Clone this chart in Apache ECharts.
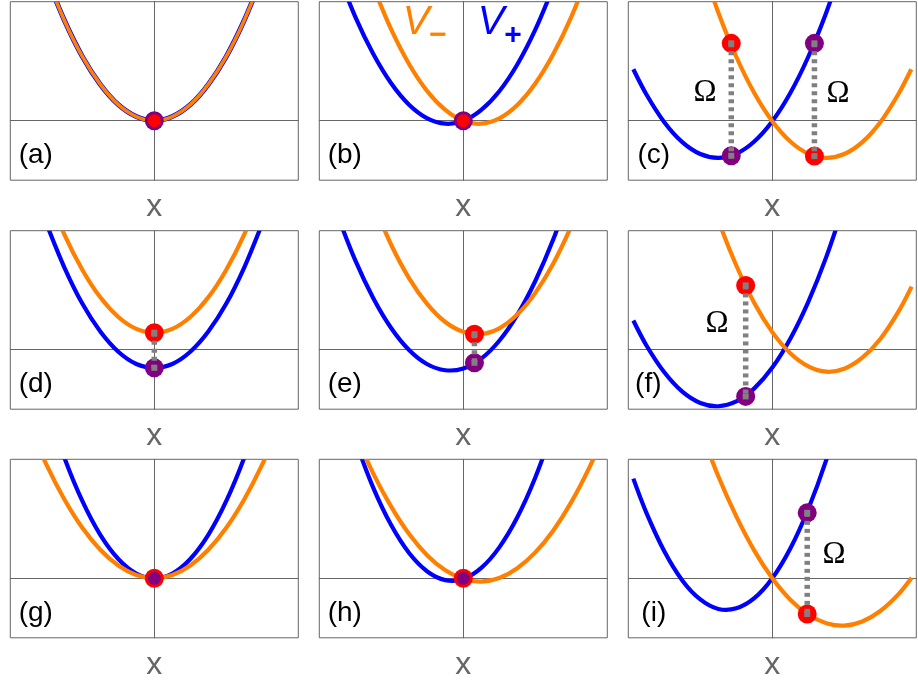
<!DOCTYPE html>
<html><head><meta charset="utf-8">
<script src="https://cdn.jsdelivr.net/npm/echarts@6/dist/echarts.min.js"></script>
<style>html,body{margin:0;padding:0;background:#fff}#c{width:918px;height:684px}</style>
</head><body><div id="c"></div>
<script>
// ---------- data ----------
const panelLabels = ['(a)','(b)','(c)','(d)','(e)','(f)','(g)','(h)','(i)'];
const axisTitle = 'x';
const curveNames = ['V\u2212','V+'];

const blue_a = [[-3,4.86],[-2.5,3.38],[-2,2.16],[-1.5,1.22],[-1,0.54],[-0.5,0.14],[0,0],[0.5,0.14],[1,0.54],[1.5,1.22],[2,2.16],[2.5,3.38],[3,4.86]];
const orange_a = [[-3,4.86],[-2.5,3.38],[-2,2.16],[-1.5,1.22],[-1,0.54],[-0.5,0.14],[0,0],[0.5,0.14],[1,0.54],[1.5,1.22],[2,2.16],[2.5,3.38],[3,4.86]];

const blue_b = [[-3.5,5.02],[-3,3.49],[-2.5,2.24],[-2,1.25],[-1.5,0.53],[-1,0.08],[-0.5,-0.10],[0,-0.01],[0.5,0.36],[1,0.99],[1.5,1.89],[2,3.06],[2.5,4.50]];
const orange_b = [[-2.5,4.50],[-2,3.06],[-1.5,1.89],[-1,0.99],[-0.5,0.36],[0,-0.01],[0.5,-0.10],[1,0.08],[1.5,0.53],[2,1.25],[2.5,2.24],[3,3.49],[3.5,5.02]];

const blue_c = [[-3.86,1.73],[-3.5,0.89],[-3,-0.05],[-2.5,-0.72],[-2,-1.12],[-1.5,-1.25],[-1,-1.11],[-0.5,-0.70],[0,-0.02],[0.5,0.93],[1,2.15],[1.5,3.64],[2,5.40]];
const orange_c = [[-2,5.40],[-1.5,3.64],[-1,2.15],[-0.5,0.93],[0,-0.02],[0.5,-0.70],[1,-1.11],[1.5,-1.25],[2,-1.12],[2.5,-0.72],[3,-0.05],[3.5,0.89],[3.86,1.73]];

const blue_d = [[-3,4.25],[-2.5,2.77],[-2,1.55],[-1.5,0.61],[-1,-0.07],[-0.5,-0.48],[0,-0.61],[0.5,-0.48],[1,-0.07],[1.5,0.61],[2,1.55],[2.5,2.77],[3,4.25]];
const orange_d = [[-3,5.34],[-2.5,3.88],[-2,2.69],[-1.5,1.76],[-1,1.10],[-0.5,0.70],[0,0.57],[0.5,0.70],[1,1.10],[1.5,1.76],[2,2.69],[2.5,3.88],[3,5.34]];

const blue_e = [[-3.5,4.54],[-3,3.00],[-2.5,1.73],[-2,0.72],[-1.5,-0.02],[-1,-0.49],[-0.5,-0.69],[0,-0.63],[0.5,-0.30],[1,0.30],[1.5,1.17],[2,2.31],[2.5,3.71],[3,5.38]];
const orange_e = [[-2.5,4.92],[-2,3.52],[-1.5,2.39],[-1,1.53],[-0.5,0.93],[0,0.60],[0.5,0.53],[1,0.72],[1.5,1.18],[2,1.91],[2.5,2.90],[3,4.16],[3.5,5.68]];

const blue_f = [[-3.86,0.98],[-3.5,0.15],[-3,-0.76],[-2.5,-1.41],[-2,-1.79],[-1.5,-1.90],[-1,-1.74],[-0.5,-1.30],[0,-0.60],[0.5,0.37],[1,1.61],[1.5,3.12],[2,4.91]];
const orange_f = [[-2,6.14],[-1.5,4.35],[-1,2.83],[-0.5,1.57],[0,0.59],[0.5,-0.12],[1,-0.56],[1.5,-0.74],[2,-0.64],[2.5,-0.27],[3,0.36],[3.5,1.27],[3.87,2.12]];

const blue_g = [[-3,5.85],[-2.5,4.06],[-2,2.60],[-1.5,1.46],[-1,0.65],[-0.5,0.16],[0,0],[0.5,0.16],[1,0.65],[1.5,1.46],[2,2.60],[2.5,4.06],[3,5.85]];
const orange_g = [[-3.5,5.21],[-3,3.83],[-2.5,2.66],[-2,1.70],[-1.5,0.96],[-1,0.43],[-0.5,0.11],[0,0],[0.5,0.11],[1,0.43],[1.5,0.96],[2,1.70],[2.5,2.66],[3,3.83],[3.5,5.21]];

const blue_h = [[-3,4.62],[-2.5,3.04],[-2,1.78],[-1.5,0.84],[-1,0.23],[-0.5,-0.06],[0,-0.02],[0.5,0.35],[1,1.04],[1.5,2.05],[2,3.39],[2.5,5.05]];
const orange_h = [[-3,4.85],[-2.5,3.52],[-2,2.40],[-1.5,1.48],[-1,0.77],[-0.5,0.27],[0,-0.02],[0.5,-0.11],[1,0.01],[1.5,0.34],[2,0.87],[2.5,1.61],[3,2.56],[3.5,3.72],[4,5.08]];

const blue_i = [[-3.86,3.35],[-3.5,2.21],[-3,0.91],[-2.5,-0.07],[-2,-0.71],[-1.5,-1.03],[-1,-1.01],[-0.5,-0.67],[0,0.00],[0.5,1.00],[1,2.33],[1.5,3.98],[2,5.97]];
const orange_i = [[-2,5.00],[-1.5,3.43],[-1,2.08],[-0.5,0.93],[0,0.00],[0.5,-0.72],[1,-1.22],[1.5,-1.51],[2,-1.59],[2.5,-1.45],[3,-1.10],[3.5,-0.54],[3.87,0.02]];

// marker points (red on V-, purple on V+)
const red_a = [[0,0]], purple_a = [[0,0]];
const red_b = [[0,0]], purple_b = [[0,0]];
const red_c = [[-1.14,2.6],[1.17,-1.19]], purple_c = [[-1.14,-1.18],[1.17,2.6]];
const red_d = [[0,0.57]], purple_d = [[0,-0.61]];
const red_e = [[0.31,0.52]], purple_e = [[0.31,-0.44]];
const red_f = [[-0.74,2.16]], purple_f = [[-0.74,-1.57]];
const red_g = [[0,0]], purple_g = [[0,0]];
const red_h = [[0,0]], purple_h = [[0,0]];
const red_i = [[0.97,-1.2]], purple_i = [[0.97,2.2]];

// vertical gaps (Omega) between the two markers
const gap_c = [[[-1.14,2.6],[-1.14,-1.18]],[[1.17,2.6],[1.17,-1.19]]];
const gap_d = [[[0,0.57],[0,-0.61]]];
const gap_e = [[[0.31,0.52],[0.31,-0.44]]];
const gap_f = [[[-0.74,2.16],[-0.74,-1.57]]];
const gap_i = [[[0.97,2.2],[0.97,-1.2]]];

// ---------- assembly ----------
const blues = [blue_a,blue_b,blue_c,blue_d,blue_e,blue_f,blue_g,blue_h,blue_i];
const oranges = [orange_a,orange_b,orange_c,orange_d,orange_e,orange_f,orange_g,orange_h,orange_i];
const reds = [red_a,red_b,red_c,red_d,red_e,red_f,red_g,red_h,red_i];
const purples = [purple_a,purple_b,purple_c,purple_d,purple_e,purple_f,purple_g,purple_h,purple_i];
const gaps = [[],[],gap_c,gap_d,gap_e,gap_f,[],[],gap_i];

const BLUE = '#0000ff', ORANGE = '#ff8000', RED = '#ff0000', PURPLE = '#800080', GRAY = '#808080', FRAME = '#666666';
const colLeft = [10.3, 319.3, 628.3], rowTop = [1.7, 230.7, 459.3];
const W = 288, H = 178.5;
const ring = {0:'purple',1:'purple',6:'red',7:'red'};

// smooth curve through the data points, positioned with the axis scales (api.coord)
function curveSeries(p, pts, color, width, z) {
  return {
    type: 'custom', xAxisIndex: p, yAxisIndex: p, data: pts, clip: true, z: z, silent: true,
    encode: {x: 0, y: 1},
    renderItem: function (params, api) {
      if (params.dataIndex !== 0) return null;
      const pix = pts.map(d => api.coord(d));
      return {type: 'polyline', shape: {points: pix, smooth: 0.33},
        style: {stroke: color, lineWidth: width, fill: null, lineJoin: 'round'}};
    }
  };
}

const grids = [], xAxes = [], yAxes = [], series = [], graphics = [];
for (let p = 0; p < 9; p++) {
  const L = colLeft[p % 3], T = rowTop[Math.floor(p / 3)];
  grids.push({left: L, top: T, width: W, height: H, show: true, borderColor: FRAME, borderWidth: 1, backgroundColor: 'transparent'});
  const axCommon = {gridIndex: p, type: 'value', axisTick: {show: false}, axisLabel: {show: false}, splitLine: {show: false},
    axisLine: {show: true, onZero: true, lineStyle: {color: FRAME, width: 1}}};
  xAxes.push(Object.assign({min: -4, max: 4}, axCommon));
  yAxes.push(Object.assign({min: -2, max: 4}, axCommon));
  const bw = p === 0 ? 5 : 4.2, ow = p === 0 ? 3.6 : 4.2;
  series.push(curveSeries(p, blues[p], BLUE, bw, 2));
  series.push(curveSeries(p, oranges[p], ORANGE, ow, 2));
  let redSize = 19, purpleSize = 19, redZ = 3, purpleZ = 3;
  if (ring[p] === 'purple') { purpleSize = 19; redSize = 13; purpleZ = 3; redZ = 4; }
  if (ring[p] === 'red') { redSize = 19; purpleSize = 13; redZ = 3; purpleZ = 4; }
  series.push({type: 'scatter', xAxisIndex: p, yAxisIndex: p, data: purples[p], symbol: 'circle', symbolSize: purpleSize,
    itemStyle: {color: PURPLE, opacity: 1}, z: purpleZ, silent: true});
  series.push({type: 'scatter', xAxisIndex: p, yAxisIndex: p, data: reds[p], symbol: 'circle', symbolSize: redSize,
    itemStyle: {color: RED, opacity: 1}, z: redZ, silent: true});
  gaps[p].forEach(seg => {
    series.push({type: 'line', xAxisIndex: p, yAxisIndex: p, data: seg, smooth: false, showSymbol: true, symbol: 'rect', symbolSize: 6,
      itemStyle: {color: GRAY}, lineStyle: {color: GRAY, width: 5.5, type: [4, 4]}, z: 5, silent: true});
  });
  graphics.push({type: 'text', x: L + (p === 5 ? 20 : 25.5), y: T + 154, z: 10,
    style: {text: panelLabels[p], font: '28px "Liberation Sans", Arial, sans-serif', fill: '#000', textAlign: 'center', textVerticalAlign: 'middle'}});
  graphics.push({type: 'text', x: L + 144, y: T + 205.5, z: 10,
    style: {text: axisTitle, font: '32px "Liberation Sans", Arial, sans-serif', fill: '#666', textAlign: 'center', textVerticalAlign: 'middle'}});
}
// V- / V+ labels in panel (b)
graphics.push({type: 'text', x: 416, y: 23, z: 10, style: {text: 'V', font: 'italic 40px "Liberation Sans", Arial, sans-serif', fill: ORANGE, textAlign: 'center', textVerticalAlign: 'middle'}});
graphics.push({type: 'text', x: 438, y: 36, z: 10, style: {text: curveNames[0].slice(1), font: 'bold 30px "Liberation Sans", Arial, sans-serif', fill: ORANGE, textAlign: 'center', textVerticalAlign: 'middle'}});
graphics.push({type: 'text', x: 491, y: 23, z: 10, style: {text: 'V', font: 'italic 40px "Liberation Sans", Arial, sans-serif', fill: BLUE, textAlign: 'center', textVerticalAlign: 'middle'}});
graphics.push({type: 'text', x: 513, y: 36, z: 10, style: {text: curveNames[1].slice(1), font: 'bold 30px "Liberation Sans", Arial, sans-serif', fill: BLUE, textAlign: 'center', textVerticalAlign: 'middle'}});
// Omega labels
[[705, 93], [838, 94], [717, 324], [834, 555]].forEach(([x, y]) => {
  graphics.push({type: 'text', x: x, y: y, z: 10, style: {text: '\u03A9', font: '31px "Liberation Serif", "Times New Roman", serif', fill: '#000', textAlign: 'center', textVerticalAlign: 'middle'}});
});

const chart = echarts.init(document.getElementById('c'), null, {renderer: 'canvas'});
chart.setOption({animation: false, backgroundColor: '#fff', grid: grids, xAxis: xAxes, yAxis: yAxes, series: series, graphic: graphics});
</script></body></html>
